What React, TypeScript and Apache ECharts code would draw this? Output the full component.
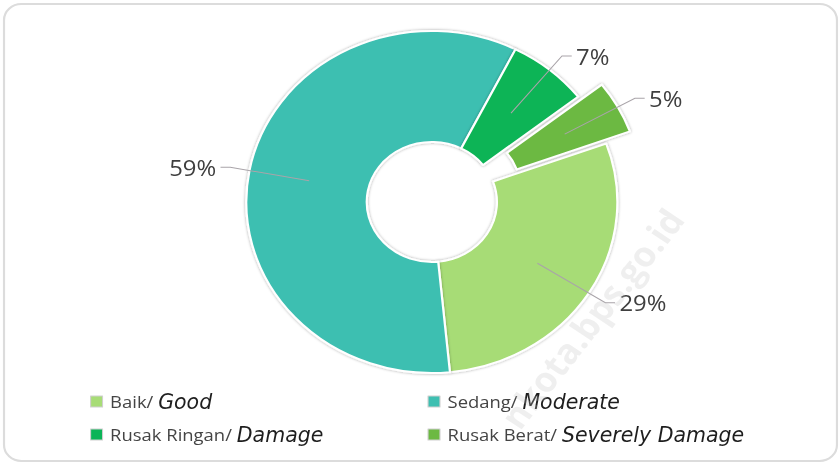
import React, { useEffect, useRef } from "react";
import * as echarts from "echarts";

const categories = ["Baik", "Sedang", "Rusak Ringan", "Rusak Berat"];
const englishNames = ["Good", "Moderate", "Damage", "Severely Damage"];
const values = [29, 59, 7, 5];
const colors = ["#a7dc76", "#3ebfb1", "#0bb457", "#6cb943"];
const explodedIndex = 3;

const PAGE_W = 839;
const PAGE_H = 465;
const STRETCH = 1.085; // the reference is horizontally stretched
const INNER_W = PAGE_W / STRETCH;

export default function App() {
  const ref = useRef<HTMLDivElement>(null);

  useEffect(() => {
    if (!ref.current) return;
    const chart = echarts.init(ref.current, undefined, { renderer: "svg" });
    const center = [398, 202];
    const legendFormatter = (name: string) => {
      const i = categories.indexOf(name);
      return `{a|${name}/ }{b|${englishNames[i]}}`;
    };
    const legendRich = {
      a: {
        fontFamily: "'Open Sans', 'Noto Sans', sans-serif",
        fontSize: 17,
        color: "#444444",
        lineHeight: 24,
        padding: [0, 0, 0, 2],
      },
      b: {
        fontFamily: "'DejaVu Sans Condensed', 'Liberation Sans Narrow', sans-serif",
        fontStyle: "italic",
        fontSize: 21,
        color: "#1e1e1e",
        lineHeight: 24,
      },
    };
    const legendCommon = {
      orient: "vertical",
      top: 386,
      itemGap: 12,
      itemWidth: 11,
      itemHeight: 11,
      icon: "rect",
      selectedMode: false,
      formatter: legendFormatter,
      textStyle: { rich: legendRich },
    };
    const legendItem = (i: number) => ({
      name: categories[i],
      itemStyle: { color: colors[i], borderColor: "#cfcfcf", borderWidth: 1 },
    });

    chart.setOption({
      animation: false,
      backgroundColor: "#ffffff",
      graphic: [
        {
          type: "rect",
          shape: { x: 3.7, y: 4, width: 767.7, height: 457, r: 16 },
          style: { fill: "none", stroke: "#dcdcdc", lineWidth: 2 },
          z: 0,
          silent: true,
        },
        {
          type: "text",
          x: 545,
          y: 318,
          rotation: (54 * Math.PI) / 180,
          z: 100,
          silent: true,
          style: {
            text: "nkota.bps.go.id",
            font: "bold 34px 'Open Sans', sans-serif",
            fill: "rgba(190,190,190,0.25)",
            align: "center",
            verticalAlign: "middle",
          },
        },
      ],
      legend: [
        { ...legendCommon, left: 78, data: [legendItem(0), legendItem(2)] },
        { ...legendCommon, left: 389, data: [legendItem(1), legendItem(3)] },
      ],
      series: [
        {
          type: "pie",
          radius: [60, 171],
          center,
          startAngle: 20,
          clockwise: true,
          selectedMode: "single",
          selectedOffset: 25,
          label: { show: false },
          labelLine: { show: false },
          emphasis: { disabled: true },
          itemStyle: {
            borderColor: "#ffffff",
            borderWidth: 2,
            shadowBlur: 3,
            shadowColor: "rgba(0,0,0,0.35)",
          },
          data: categories.map((name, i) => ({
            name,
            value: values[i],
            selected: i === explodedIndex,
            itemStyle: { color: colors[i] },
          })),
          z: 2,
        },
        {
          type: "pie",
          radius: [0, 115],
          center,
          startAngle: 20,
          clockwise: true,
          selectedMode: "single",
          selectedOffset: 25,
          silent: true,
          emphasis: { disabled: true },
          itemStyle: { color: "rgba(0,0,0,0)", borderWidth: 0 },
          label: {
            show: true,
            formatter: "{c}%",
            fontFamily: "'Open Sans', 'Noto Sans', sans-serif",
            fontSize: 22,
            color: "#3f3f3f",
            distanceToLabelLine: 4,
          },
          labelLine: {
            show: true,
            length: 74,
            length2: 9,
            lineStyle: { color: "#a9a4a9", width: 1 },
          },
          data: categories.map((name, i) => ({
            name,
            value: values[i],
            selected: i === explodedIndex,
          })),
          z: 5,
        },
      ],
    });
    return () => chart.dispose();
  }, []);

  return (
    <div
      ref={ref}
      style={{
        position: "absolute",
        left: 0,
        top: 0,
        width: INNER_W + "px",
        height: PAGE_H + "px",
        transform: `scaleX(${STRETCH})`,
        transformOrigin: "0 0",
      }}
    />
  );
}
